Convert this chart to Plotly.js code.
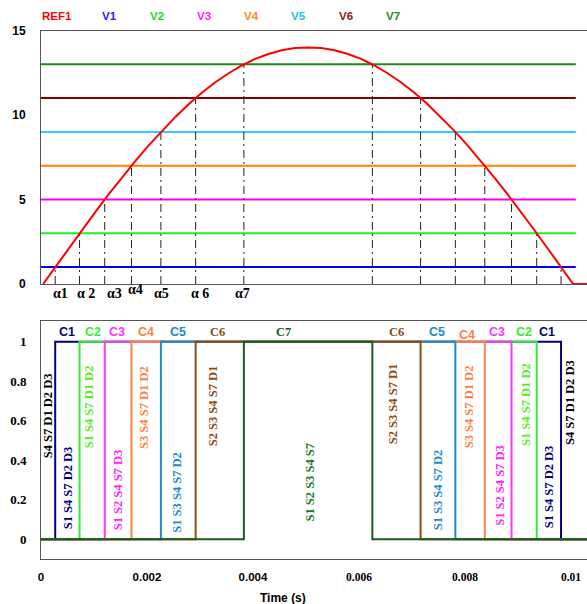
<!DOCTYPE html>
<html>
<head>
<meta charset="utf-8">
<script src="https://cdn.plot.ly/plotly-3.0.1.min.js"></script>
<style>
html,body{margin:0;padding:0;overflow:hidden;background:#fff;}
#chart{width:600px;height:604px;}
</style>
</head>
<body>
<div id="chart"></div>
<script>
// ---------- DATA ----------
const tRef = [0.00004,0.00029,0.00054,0.00079,0.00104,0.00129,0.00154,0.00179,0.00204,0.00229,
  0.00254,0.00279,0.00304,0.00329,0.00354,0.00379,0.00404,0.00429,0.00454,0.00479,
  0.00504,0.00529,0.00554,0.00579,0.00604,0.00629,0.00654,0.00679,0.00704,0.00729,
  0.00754,0.00779,0.00804,0.00829,0.00854,0.00879,0.00904,0.00929,0.00954,0.00979,
  0.01004,0.0106];
const ref1 = [0,1.10,2.19,3.27,4.33,5.36,6.36,7.32,8.23,9.09,
  9.90,10.65,11.33,11.94,12.47,12.93,13.32,13.61,13.83,13.96,
  14.00,13.96,13.83,13.61,13.32,12.93,12.47,11.94,11.33,10.65,
  9.90,9.09,8.23,7.32,6.36,5.36,4.33,3.27,2.19,1.10,
  0,0];
const levelNames = ['V1','V2','V3','V4','V5','V6','V7'];
const levels = [1,3,5,7,9,11,13];
const levelStart = 0;
const levelEnd = 0.01009;
const alphaOn  = [0.000268,0.000727,0.001202,0.001707,0.002262,0.002918,0.003828];
const alphaOff = [0.009812,0.009353,0.008878,0.008373,0.007818,0.007162,0.006252];
const alphaLabels = ['\u03b11','\u03b1 2','\u03b13','\u03b14','\u03b15','\u03b1 6','\u03b17'];
const cellNames = ['C1','C2','C3','C4','C5','C6','C7'];
const stateLabels = ['S4 S7 D1 D2 D3','S1 S4 S7 D2 D3','S1 S4 S7 D1 D2','S1 S2 S4 S7 D3',
  'S3 S4 S7 D1 D2','S1 S3 S4 S7 D2','S2 S3 S4 S7 D1','S1 S2 S3 S4 S7'];
const tEnd = 0.0106;
const xTickVals = [0,0.002,0.004,0.006,0.008,0.01];
const xTickText = ['0','0.002','0.004','0.006','0.008','0.01'];
const yTopTicks = [0,5,10,15];
const yBotTicks = [0,0.2,0.4,0.6,0.8,1];
const yBotText = ['0','0.2','0.4','0.6','0.8','1'];

// ---------- STYLE ----------
const refColor = '#ff0000';
const levelColors = ['#0000ff','#22ee22','#ff00ff','#ff8000','#33ccff','#800000','#1a8a1a'];
const legendColors = ['#ff0000','#2222ff','#22dd22','#ff22ff','#ff8822','#22bbff','#8b1a1a','#1a8a1a'];
const cellColors = ['#000080','#33ee33','#ff33ff','#ff8040','#1a8ccc','#8b4a13','#1a5c1a'];
const stateColors = ['#000000','#000080','#55ee22','#ff22ff','#ff8040','#1a8ccc','#8b4a13','#1a7a1a'];
const SERIF = 'Liberation Serif, Times New Roman, serif';
const SANS = 'Liberation Sans, Arial, sans-serif';
const PXS = 53000;           // px per second
const X0 = 41;               // px of t=0
function tx(px){ return (px - X0) / PXS; }
function yb(py){ return (539.3 - py) / 197.6; }

const traces = [];
// levels
levels.forEach((v,i)=>{
  traces.push({x:[levelStart,levelEnd], y:[v,v], mode:'lines', xaxis:'x', yaxis:'y',
    line:{color:levelColors[i], width:2}, hoverinfo:'skip', showlegend:false});
});
// dashed alpha lines
const dx=[], dy=[];
alphaOn.forEach((a,i)=>{ dx.push(a,a,null); dy.push(0,levels[i],null); });
alphaOff.forEach((a,i)=>{ dx.push(a,a,null); dy.push(0,levels[i],null); });
traces.push({x:dx, y:dy, mode:'lines', xaxis:'x', yaxis:'y',
  line:{color:'#222', width:1, dash:'8px,4px,2px,4px'}, hoverinfo:'skip', showlegend:false});
// reference
traces.push({x:tRef, y:ref1, mode:'lines', xaxis:'x', yaxis:'y', line:{color:refColor, width:2},
  hoverinfo:'skip', showlegend:false});
// pulses
for(let k=0;k<7;k++){
  traces.push({x:[0,alphaOn[k],alphaOn[k],alphaOff[k],alphaOff[k],tEnd], y:[0,0,1,1,0,0],
    mode:'lines', xaxis:'x2', yaxis:'y2', line:{color:cellColors[k], width:2},
    hoverinfo:'skip', showlegend:false});
}

const annotations = [];
// legend
const legNames = ['REF1'].concat(levelNames);
const legPx = [40,100,148,195,242,289,337,384];
legNames.forEach((n,i)=>{
  annotations.push({text:n, xref:'paper', yref:'paper', x:(legPx[i]-X0)/559, y:1-16/604,
    xanchor:'left', yanchor:'middle', showarrow:false,
    font:{family:SANS, size:11.5, color:legendColors[i], weight:'bold'}});
});
// alpha labels
const alphaShift = [5,6,10,4.5,1,4,-1.5];
alphaLabels.forEach((s,i)=>{
  annotations.push({text:s, xref:'x', yref:'paper', x:alphaOn[i], y:1-294/604,
    xshift:alphaShift[i], yshift:(i===3?4:0), xanchor:'center', yanchor:'middle', showarrow:false,
    font:{family:SERIF, size:14, color:'#000', weight:'bold'}});
});
// C labels
const cPxL = [66.7,93.3,116.7,145.7,177.7,217,283.3];
const cPxR = [546.7,523.7,497,467.3,436.7,396.3];
const cFont = [SANS,SANS,SANS,SANS,SANS,SERIF,SERIF];
cellNames.forEach((c,i)=>{
  annotations.push({text:c, xref:'x2', yref:'y2', x:tx(cPxL[i]), y:yb(332.5), showarrow:false,
    xanchor:'center', yanchor:'middle', font:{family:cFont[i], size:12.5, color:cellColors[i], weight:'bold'}});
  if(i<6) annotations.push({text:c, xref:'x2', yref:'y2', x:tx(cPxR[i]), y:yb(i===3?335:332.5), showarrow:false,
    xanchor:'center', yanchor:'middle', font:{family:cFont[i], size:12.5, color:cellColors[i], weight:'bold'}});
});
// state labels (rotated)
const sPosL = [[48.3,416],[68.3,488],[89.3,407],[118.3,490],[144,408],[176.7,492],[213.3,406],[310,482.5]];
const sPosR = [[570,403],[549.3,487],[526,405],[499.3,485.5],[469.3,407],[438.3,490],[393.3,404]];
stateLabels.forEach((s,i)=>{
  annotations.push({text:s, xref:'x2', yref:'y2', x:tx(sPosL[i][0]), y:yb(sPosL[i][1]), textangle:-90,
    showarrow:false, xanchor:'center', yanchor:'middle',
    font:{family:SERIF, size:12.5, color:stateColors[i], weight:'bold'}});
  if(i<7) annotations.push({text:s, xref:'x2', yref:'y2', x:tx(sPosR[i][0]), y:yb(sPosR[i][1]), textangle:-90,
    showarrow:false, xanchor:'center', yanchor:'middle',
    font:{family:SERIF, size:12.5, color:stateColors[i], weight:'bold'}});
});
// x title
annotations.push({text:'Time (s)', xref:'paper', yref:'paper', x:(283-X0)/559, y:1-598/604,
  xanchor:'center', yanchor:'middle', showarrow:false, font:{family:SANS, size:12, color:'#000', weight:'bold'}});

const xr = [0, 559/PXS];
const tickTextStyled = xTickText.map((t,i)=> i<3 ? t : '<span style="font-family:Liberation Serif">'+t+'</span>');
const layout = {
  width:600, height:604, margin:{l:41, r:0, t:0, b:0},
  paper_bgcolor:'#fff', plot_bgcolor:'#fff', showlegend:false,
  xaxis:{domain:[0,1], range:xr, showgrid:false, zeroline:false, showticklabels:false, ticks:'',
    showline:true, mirror:true, linecolor:'#555', linewidth:1, anchor:'y'},
  yaxis:{domain:[1-284/604, 1-30.5/604], range:[0,15], tickvals:yTopTicks, showgrid:false, zeroline:false,
    ticks:'outside', ticklen:12, tickcolor:'rgba(0,0,0,0)', showline:true, mirror:true, linecolor:'#555', linewidth:1,
    tickfont:{family:SANS, size:12, color:'#000', weight:'bold'}, anchor:'x'},
  xaxis2:{domain:[0,1], range:xr, tickvals:xTickVals, ticktext:tickTextStyled, showgrid:false, zeroline:false,
    ticks:'outside', ticklen:7, tickcolor:'rgba(0,0,0,0)', showline:true, mirror:true, linecolor:'#555', linewidth:1,
    tickfont:{family:SANS, size:11.5, color:'#000', weight:'bold'}, anchor:'y2'},
  yaxis2:{domain:[1-559.3/604, 1-320.7/604], range:[-0.101,1.106], tickvals:yBotTicks, ticktext:yBotText,
    showgrid:false, zeroline:false, ticks:'outside', ticklen:11, tickcolor:'rgba(0,0,0,0)', showline:true, mirror:true,
    linecolor:'#555', linewidth:1, tickfont:{family:SERIF, size:13, color:'#000', weight:'bold'}, anchor:'x2'},
  annotations:annotations
};
Plotly.newPlot('chart', traces, layout, {staticPlot:true, displayModeBar:false});
</script>
</body>
</html>
